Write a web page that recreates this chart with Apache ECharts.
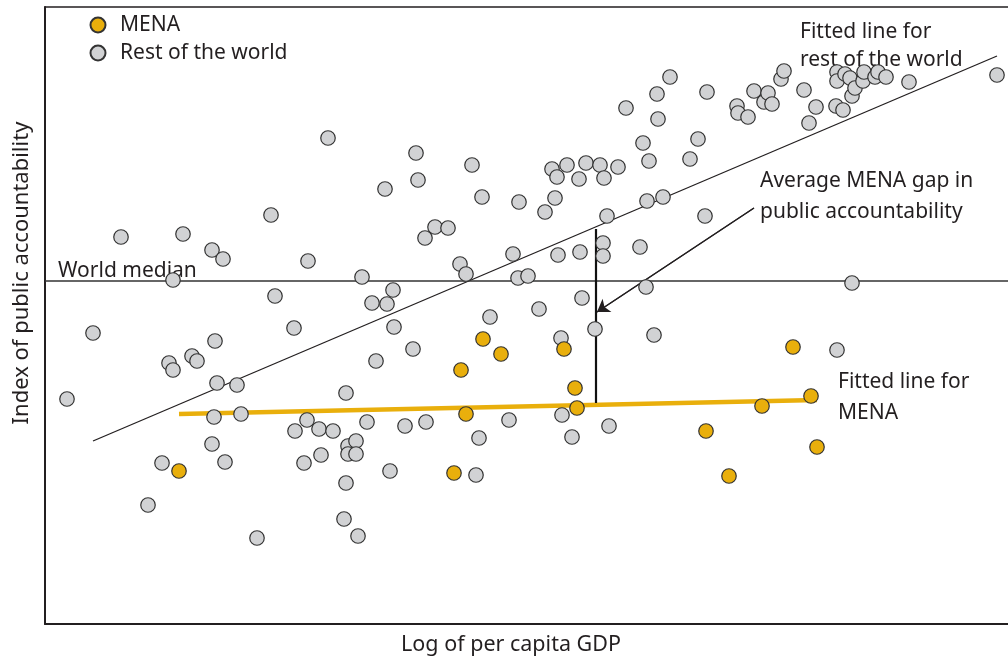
<!DOCTYPE html>
<html>
<head>
<meta charset="utf-8">
<script src="https://cdn.jsdelivr.net/npm/echarts@6/dist/echarts.min.js"></script>
<style>
html,body{margin:0;padding:0;background:#fff;}
#chart{width:1008px;height:662px;}
</style>
</head>
<body>
<div id="chart"></div>
<script>
// Values (x: log per capita GDP, y: accountability index; unlabelled axes, y grows downward as drawn)
const restOfWorld = [
[67,399],[93,333],[121,237],[148,505],[162,463],[169,363],[173,370],[173,280],[183,234],[192,356],[197,361],[212,250],[212,444],[214,417],[215,341],[217,383],[223,259],[225,462],[237,385],[241,414],[257,538],[271,215],[275,296],[294,328],[295,431],[304,463],[307,420],[308,261],[319,429],[321,455],[328,138],[333,431],[344,519],[346,393],[346,483],[348,446],[348,454],[356,441],[356,454],[358,536],[362,277],[367,422],[372,303],[376,361],[385,189],[387,304],[390,471],[393,290],[394,327],[405,426],[413,349],[416,153],[418,180],[425,238],[426,422],[435,227],[448,228],[460,264],[466,274],[472,165],[476,475],[479,438],[482,197],[490,317],[509,420],[513,254],[518,278],[519,202],[528,276],[539,309],[545,212],[552,169],[555,198],[557,177],[558,255],[561,338],[562,415],[567,165],[572,437],[579,179],[580,252],[582,298],[586,163],[595,329],[600,165],[603,243],[603,256],[604,178],[607,216],[609,426],[618,167],[626,108],[640,247],[643,143],[646,287],[647,201],[649,161],[654,335],[657,94],[658,119],[663,197],[670,77],[690,159],[698,139],[705,216],[707,92],[737,106],[738,113],[748,117],[754,91],[764,102],[768,93],[772,104],[781,79],[784,71],[804,90],[809,123],[816,107],[836,106],[837,72],[837,81],[843,110],[845,74],[850,78],[852,96],[852,283],[837,350],[855,88],[863,81],[864,72],[875,77],[878,72],[886,77],[909,82],[997,75]
];
const mena = [
[179,471],[454,473],[461,370],[466,414],[483,339],[501,354],[564,349],[575,388],[577,408],[706,431],[729,476],[762,406],[793,347],[811,396],[817,447]
];
const fitWorld = [[93,441],[997,56]];
const fitMena = [[179,414],[817,400]];
const worldMedian = 281;
const gapLine = [[596,229],[596,403]];
const gapArrow = [[754,208],[597,312]];
const xRange = [45,1008];
const yRange = [7,624];

const FONT = 'Noto Sans';
const INK = '#231F20';
const GOLD = '#E9AF0C';
const GREY = '#D1D2D4';

const chart = echarts.init(document.getElementById('chart'), null, {renderer:'canvas'});
const txt = (text, x, y, size, align) => ({
  type:'text', x:x, y:y, silent:true,
  style:{text:text, fill:INK, font:(size || 21) + 'px "' + FONT + '"', textAlign:align || 'left', textVerticalAlign:'middle'}
});

chart.setOption({
  animation:false,
  backgroundColor:'#fff',
  grid:{left:45, right:0, top:7, bottom:38},
  xAxis:[
    {type:'value', position:'bottom', min:xRange[0], max:xRange[1],
     axisLine:{show:true, onZero:false, lineStyle:{color:INK, width:2}},
     axisTick:{show:false}, axisLabel:{show:false}, splitLine:{show:false}},
    {type:'value', position:'top', min:xRange[0], max:xRange[1],
     axisLine:{show:true, onZero:false, lineStyle:{color:INK, width:1.5}},
     axisTick:{show:false}, axisLabel:{show:false}, splitLine:{show:false}}
  ],
  yAxis:{type:'value', inverse:true, min:yRange[0], max:yRange[1],
     axisLine:{show:true, onZero:false, lineStyle:{color:INK, width:2}},
     axisTick:{show:false}, axisLabel:{show:false}, splitLine:{show:false}},
  legend:{
    data:['MENA','Rest of the world'], orient:'vertical', left:89.5, top:14.5, padding:0,
    itemWidth:15, itemHeight:15, itemGap:7, icon:'circle', selectedMode:false,
    textStyle:{fontFamily:FONT, fontSize:21, lineHeight:21, color:INK, padding:[0,0,0,9.5]}
  },
  series:[
    {name:'fitWorld', type:'line', data:fitWorld, symbol:'none', silent:true, z:2,
     lineStyle:{color:INK, width:1.3}},
    {name:'median', type:'line', data:[[xRange[0],worldMedian],[xRange[1],worldMedian]], symbol:'none', silent:true, z:2,
     lineStyle:{color:'#333', width:1.3}},
    {name:'fitMena', type:'line', data:fitMena, symbol:'none', silent:true, z:2,
     lineStyle:{color:GOLD, width:4.5}},
    {name:'gap', type:'line', data:gapLine, symbol:'none', silent:true, z:2,
     lineStyle:{color:'#111', width:2.2}},
    {name:'arrow', type:'line', data:gapArrow, symbol:'none', silent:true, z:2,
     lineStyle:{color:INK, width:1.2},
     markLine:{silent:true, symbol:['none','arrow'], symbolSize:12, label:{show:false},
       lineStyle:{color:INK, width:1.2, type:'solid'},
       itemStyle:{color:INK},
       data:[[{coord:gapArrow[0]},{coord:gapArrow[1]}]]}},
    {name:'Rest of the world', type:'scatter', data:restOfWorld, symbol:'circle', symbolSize:14.5, z:5,
     itemStyle:{color:GREY, borderColor:'#333', borderWidth:1.2, opacity:1}},
    {name:'MENA', type:'scatter', data:mena, symbol:'circle', symbolSize:14.5, z:6,
     itemStyle:{color:GOLD, borderColor:'#333', borderWidth:1.2, opacity:1}}
  ],
  graphic:[
    txt('Fitted line for', 800, 32.5),
    txt('rest of the world', 800, 60.5),
    txt('Average MENA gap in', 760, 181),
    txt('public accountability', 760, 212),
    txt('World median', 58, 271),
    txt('Fitted line for', 838, 382),
    txt('MENA', 838, 413),
    txt('Log of per capita GDP', 511, 645, 21.5, 'center'),
    Object.assign(txt('Index of public accountability', 22, 273, 22, 'center'), {rotation:Math.PI/2})
  ]
});
</script>
</body>
</html>
